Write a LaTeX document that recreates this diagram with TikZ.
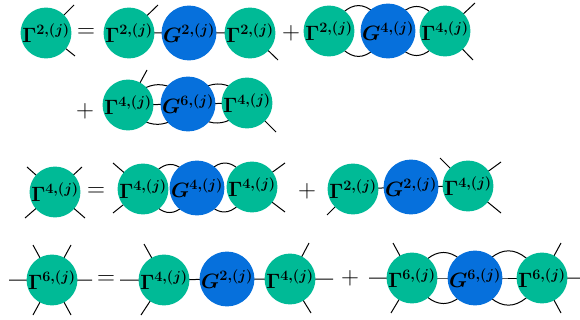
\documentclass[tikz,border=0pt]{standalone}
\usetikzlibrary{backgrounds}
\definecolor{gam}{HTML}{00BA96}
\definecolor{gbl}{HTML}{0670DC}
\begin{document}
\begin{tikzpicture}[x=1pt,y=-1pt,
  vtx/.style={circle,minimum size=48pt,inner sep=0pt,font=\fontsize{20.5}{22}\selectfont\boldmath},
  gv/.style={vtx,fill=gam},
  bv/.style={vtx,fill=gbl},
  sym/.style={font=\fontsize{25}{26}\selectfont},
  ln/.style={line width=1pt},
  wu/.style={out=60,in=120,looseness=#1},
  wd/.style={out=-60,in=-120,looseness=#1}]
\useasboundingbox (0,0) rectangle (580,320);
% ---------------- row 1
\node[gv] (a1) at (46,33) {$\Gamma^{2,(j)}$};
\node[sym] (eq1) at (86,33) {$=$};
\node[gv] (b1) at (129,33) {$\Gamma^{2,(j)}$};
\node[bv] (b2) at (189,33) {$G^{2,(j)}$};
\node[gv] (b3) at (250,33) {$\Gamma^{2,(j)}$};
\node[sym] (p1) at (291,33) {$+$};
\node[gv] (c1) at (329,31) {$\Gamma^{2,(j)}$};
\node[bv] (c2) at (388,31) {$G^{4,(j)}$};
\node[gv] (c3) at (445,31) {$\Gamma^{4,(j)}$};
% ---------------- row 2
\node[sym] (p2) at (85,111) {$+$};
\node[gv] (d1) at (128,105) {$\Gamma^{4,(j)}$};
\node[bv] (d2) at (188,104) {$G^{6,(j)}$};
\node[gv] (d3) at (247,103) {$\Gamma^{4,(j)}$};
% ---------------- row 3
\node[gv] (e1) at (55,192) {$\Gamma^{4,(j)}$};
\node[sym] (eq3) at (96,192) {$=$};
\node[gv] (f1) at (143,189) {$\Gamma^{4,(j)}$};
\node[bv] (f2) at (197,188) {$G^{4,(j)}$};
\node[gv] (f3) at (252,187) {$\Gamma^{4,(j)}$};
\node[sym] (p3) at (307,191) {$+$};
\node[gv] (g1) at (353,189) {$\Gamma^{2,(j)}$};
\node[bv] (g2) at (411,187) {$G^{2,(j)}$};
\node[gv] (g3) at (468,186) {$\Gamma^{4,(j)}$};
% ---------------- row 4
\node[gv] (h1) at (52,280) {$\Gamma^{6,(j)}$};
\node[sym] (eq4) at (106,280) {$=$};
\node[gv] (i1) at (164,280) {$\Gamma^{4,(j)}$};
\node[bv] (i2) at (227,279) {$G^{2,(j)}$};
\node[gv] (i3) at (290,279) {$\Gamma^{4,(j)}$};
\node[sym] (p4) at (350,278) {$+$};
\node[gv] (j1) at (412,278) {$\Gamma^{6,(j)}$};
\node[bv] (j2) at (475,278) {$G^{6,(j)}$};
\node[gv] (j3) at (542,278) {$\Gamma^{6,(j)}$};
% ---------------- free leg ends
\coordinate (la1) at (74,5);  \coordinate (la2) at (75,56);
\coordinate (lb1) at (158,5); \coordinate (lb3) at (278,60);
\coordinate (lc1) at (475,3); \coordinate (lc2) at (473,60);
\coordinate (ld1) at (147,70); \coordinate (ld3) at (276,132);
\coordinate (le1) at (27,167); \coordinate (le2) at (82,167);
\coordinate (le3) at (25,218); \coordinate (le4) at (85,218);
\coordinate (lf1) at (113,163); \coordinate (lf2) at (113,213);
\coordinate (lf3) at (285,163); \coordinate (lf4) at (285,212);
\coordinate (lg1) at (327,215);
\coordinate (lg2) at (440,158); \coordinate (lg3) at (501,162); \coordinate (lg4) at (501,213);
\coordinate (lh1) at (9,280); \coordinate (lh2) at (92,280);
\coordinate (lh3) at (33,245); \coordinate (lh4) at (71,245);
\coordinate (lh5) at (33,315); \coordinate (lh6) at (71,315);
\coordinate (li1) at (120,280); \coordinate (li2) at (144,244); \coordinate (li3) at (141,315);
\coordinate (li4) at (333,279); \coordinate (li5) at (309,243); \coordinate (li6) at (311,313);
\coordinate (lj1) at (369,278); \coordinate (lj2) at (393,243); \coordinate (lj3) at (391,313);
\coordinate (lj4) at (580,278); \coordinate (lj5) at (561,243); \coordinate (lj6) at (561,313);
\begin{scope}[on background layer,every path/.style={ln}]
% row 1
\draw (a1.center) -- (la1) (a1.center) -- (la2);
\draw (b1.center) -- (lb1) (b1.center) -- (b2.center) -- (b3.center) -- (lb3);
\draw (c1.center) to[wu=1.7] (c2.center) to[wu=1.7] (c3.center);
\draw (c1.center) to[wd=1.7] (c2.center) to[wd=1.7] (c3.center);
\draw (c3.center) -- (lc1) (c3.center) -- (lc2);
% row 2
\draw (d1.center) -- (ld1) (d1.center) -- (d2.center) -- (d3.center) -- (ld3);
\draw (d1.center) to[wu=1.3] (d2.center) to[wu=1.3] (d3.center);
\draw (d1.center) to[wd=1.3] (d2.center) to[wd=1.3] (d3.center);
% row 3
\draw (e1.center) -- (le1) (e1.center) -- (le2) (e1.center) -- (le3) (e1.center) -- (le4);
\draw (f1.center) -- (lf1) (f1.center) -- (lf2) (f3.center) -- (lf3) (f3.center) -- (lf4);
\draw (f1.center) to[wu=1.75] (f2.center) to[wu=1.75] (f3.center);
\draw (f1.center) to[wd=1.75] (f2.center) to[wd=1.75] (f3.center);
\draw (g1.center) -- (lg1) (g1.center) -- (g2.center) -- (g3.center);
\draw (g3.center) -- (lg2) (g3.center) -- (lg3) (g3.center) -- (lg4);
% row 4
\draw (h1.center) -- (lh1) (h1.center) -- (lh2) (h1.center) -- (lh3)
      (h1.center) -- (lh4) (h1.center) -- (lh5) (h1.center) -- (lh6);
\draw (i1.center) -- (li1) (i1.center) -- (li2) (i1.center) -- (li3);
\draw (i1.center) -- (i2.center) -- (i3.center);
\draw (i3.center) -- (li4) (i3.center) -- (li5) (i3.center) -- (li6);
\draw (j1.center) -- (lj1) (j1.center) -- (lj2) (j1.center) -- (lj3);
\draw (j1.center) -- (j2.center) -- (j3.center);
\draw (j1.center) to[wu=1.6] (j2.center) to[wu=1.6] (j3.center);
\draw (j1.center) to[wd=1.6] (j2.center) to[wd=1.6] (j3.center);
\draw (j3.center) -- (lj4) (j3.center) -- (lj5) (j3.center) -- (lj6);
\end{scope}
\end{tikzpicture}
\end{document}
